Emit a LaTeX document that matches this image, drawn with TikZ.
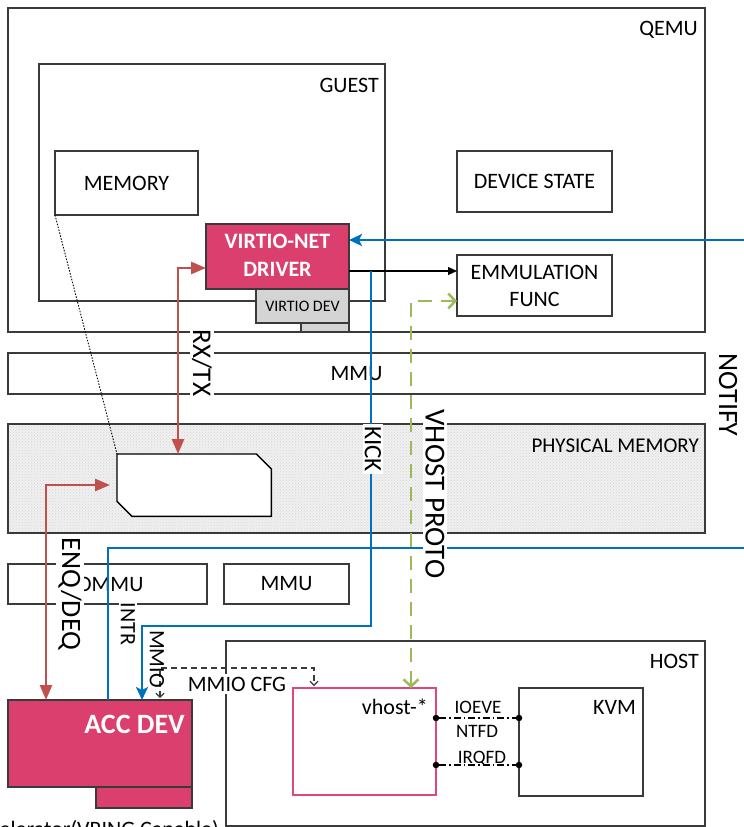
\documentclass[tikz,border=0pt]{standalone}
\usepackage{fontspec}
\setmainfont{Carlito}
\usetikzlibrary{arrows.meta,calc,patterns}
\definecolor{crim}{HTML}{DA3F6D}
\definecolor{vhpink}{HTML}{E0467A}
\definecolor{rd}{HTML}{C0504D}
\definecolor{bl}{HTML}{0070C0}
\definecolor{gr}{HTML}{9BBB59}
\definecolor{ln}{HTML}{3A3A3A}
\newcommand{\fs}[1]{\fontsize{#1}{#1}\selectfont}
\tikzset{
  box/.style={draw=ln, line width=1.4pt, fill=white, inner sep=0pt, outer sep=0pt, anchor=north west},
  txt/.style={inner sep=0pt, font=\fs{22}},
  rlab/.style={rotate=-90, inner sep=2pt, fill=white},
  bluearrow/.style={draw=bl, line width=2.8pt},
  redarrow/.style={draw=rd, line width=2.6pt},
  greenarrow/.style={draw=gr, line width=2.5pt, dash pattern=on 14pt off 9pt},
  dotn/.style={circle, fill=black, inner sep=0pt, minimum size=6.5pt},
}
\begin{document}
\begin{tikzpicture}[x=1pt,y=-1pt]
\useasboundingbox (0,0) rectangle (744,827);
% QEMU
\node[box, minimum width=697pt, minimum height=324pt] (qemu) at (8,8) {};
\node[txt, anchor=base east] (qemut) at (698,35) {QEMU};
\node[box, minimum width=346pt, minimum height=237pt] (guest) at (39,64) {};
\node[txt, anchor=base east] (guestt) at (379,92) {GUEST};
\node[box, minimum width=143pt, minimum height=64pt] (mem) at (55,151) {};
\node[txt] at (mem.center) {MEMORY};
\node[box, minimum width=155pt, minimum height=61pt] (dev) at (457,151) {};
\node[txt] at (dev.center) {DEVICE STATE};
\node[box, minimum width=155pt, minimum height=61pt] (emu) at (457,255) {};
\node[txt, align=center, font=\fontsize{22}{27}\selectfont] at (emu.center) {EMMULATION\\FUNC};
% driver
\node[box, fill=black!17, minimum width=48pt, minimum height=9pt] (vsmall) at (301,323) {};
\node[box, fill=black!17, minimum width=93pt, minimum height=34pt] (vdev) at (256,289) {};
\node[txt, font=\fs{16}] at (vdev.center) {VIRTIO DEV};
\node[box, fill=crim, minimum width=143pt, minimum height=65pt] (drv) at (206,224) {};
\node[txt, align=center, text=white, font=\fontsize{22}{28}\selectfont\bfseries] at ($(drv.center)+(0,-1)$) {VIRTIO-NET\\DRIVER};
% MMU bar
\node[box, minimum width=697pt, minimum height=41pt] (mmu) at (8,353) {};
\node[txt] at (mmu.center) {MMU};
% physical memory
\node[box, fill=black!6, minimum width=697pt, minimum height=109pt] (phys) at (8,424) {};
\fill[pattern=crosshatch dots, pattern color=black!16] (phys.north west) rectangle (phys.south east);
\draw[draw=ln, line width=1.4pt] (phys.north west) rectangle (phys.south east);
\node[txt, anchor=base east, font=\fs{21}] at (699,452) {PHYSICAL MEMORY};
\node[minimum width=154pt, minimum height=62pt, inner sep=0pt, anchor=north west] (buf) at (117,454) {};
\draw[draw=black, fill=white, line width=1.4pt] (buf.north west) -- ($(buf.north east)+(-15,0)$) -- ($(buf.north east)+(0,15)$) -- (buf.south east) -- ($(buf.south west)+(15,0)$) -- ($(buf.south west)+(0,-15)$) -- cycle;
\draw[line width=0.9pt, dash pattern=on 1.5pt off 1.5pt] (mem.south west) -- (buf.north west);
% IOMMU, MMU
\node[box, minimum width=199pt, minimum height=40pt] (iommu) at (8,564) {};
\node[txt] at (iommu.center) {IOMMU};
\node[box, minimum width=125pt, minimum height=40pt] (mmu2) at (224,564) {};
\node[txt] at (mmu2.center) {MMU};
% HOST
\node[box, minimum width=479pt, minimum height=185pt] (host) at (226,641) {};
\node[txt, anchor=base east] at (699,668) {HOST};
\node[box, draw=vhpink, line width=2.6pt, minimum width=143pt, minimum height=107pt] (vh) at (293,688) {};
\node[txt, anchor=base east] at (428,714) {vhost-*};
\node[box, minimum width=124pt, minimum height=108pt] (kvm) at (519,688) {};
\node[txt, anchor=base east] at (636,714) {KVM};
% ACC DEV
\node[box, fill=crim, minimum width=96pt, minimum height=21pt] (acctab) at (96,787) {};
\node[box, fill=crim, minimum width=184pt, minimum height=87pt] (acc) at (8,700) {};
\node[txt, anchor=base east, text=white, font=\fs{28}\bfseries] at (185,733) {ACC DEV};
\node[txt, anchor=base east] at (219,836) {Accelerator(VRING Capable)};
% dash-dot links
\node[dotn] (d1) at (436,718) {};
\node[dotn] (d2) at (519,718) {};
\node[dotn] (d3) at (436,765) {};
\node[dotn] (d4) at (519,765) {};
\draw[line width=1.1pt, dash pattern=on 7pt off 3pt on 1.5pt off 3pt] (d1) -- (d2);
\draw[line width=1.1pt, dash pattern=on 7pt off 3pt on 1.5pt off 3pt] (d3) -- (d4);
\node[txt, anchor=base, font=\fs{19}] at (478,713) {IOEVE};
\node[txt, anchor=base, font=\fs{19}] at (477,737) {NTFD};
\node[txt, anchor=base, font=\fs{19}] at (482,763) {IRQFD};
% black arrow
\coordinate (b0) at ($(drv.north east)+(0,47)$);
\draw[line width=1.2pt, -{Triangle[length=9pt,width=8pt]}] (b0) -- (b0 -| emu.west);
% blue connectors
\coordinate (nr1) at (744,240);
\coordinate (nr2) at (744,548);
\coordinate (k0) at (371,271);
\coordinate (k1) at (142,626);
\coordinate (i1) at ($(acc.north west)+(100,0)$);
\draw[bluearrow, -{Stealth[length=13pt,width=12pt,inset=3pt]}] (nr1) -- (nr1 -| drv.east);
\draw[bluearrow, -{Stealth[length=13pt,width=12pt,inset=3pt]}] (k0) |- (k1) -- (k1 |- acc.north);
\draw[bluearrow] (nr2) -| (i1);
% red connectors
\coordinate (r0) at (178,454);
\coordinate (r1) at ($(drv.north west)+(0,44)$);
\coordinate (e0) at ($(acc.north west)+(38,0)$);
\coordinate (e1) at (110,485);
\draw[redarrow, {Triangle[length=15pt,width=12pt]}-{Triangle[length=15pt,width=12pt]}] (r0) |- (r1);
\draw[redarrow, {Triangle[length=15pt,width=12pt]}-{Triangle[length=15pt,width=12pt]}] (e0) |- (e1);
% green vhost proto
\coordinate (g0) at ($(vh.north west)+(118,0)$);
\coordinate (g1) at (457,301);
\draw[greenarrow, {Straight Barb[length=7pt,width=15pt]}-{Straight Barb[length=7pt,width=15pt]}] (g0) |- (g1);
% dashed mmio
\coordinate (m0) at ($(acc.north west)+(152,-2)$);
\coordinate (m1) at (160,668);
\coordinate (m2) at ($(vh.north west)+(21,-2)$);
\draw[draw=ln, line width=1.1pt, dash pattern=on 6pt off 4pt, {Straight Barb[length=4pt,width=8pt]}-{Straight Barb[length=4pt,width=8pt]}] (m0) -- (m1) -| (m2);
% rotated labels
\node[rlab, font=\fs{27}] at (202,363) {RX/TX};
\node[rlab, font=\fs{25}] at (373,449) {KICK};
\node[rlab, font=\fs{29}] at (435,494) {VHOST PROTO};
\node[rlab, font=\fs{28}] at (70,594) {ENQ/DEQ};
\node[rlab, font=\fs{22}] at (128,624) {INTR};
\node[rotate=-90, inner sep=0pt, font=\fs{22}] at (157,659) {MMIO};
\node[rotate=-90, inner sep=0pt, font=\fs{28}] at (728,395) {NOTIFY};
\node[txt, anchor=base, fill=white, inner sep=3pt] at (237,691) {MMIO CFG};
\end{tikzpicture}
\end{document}
